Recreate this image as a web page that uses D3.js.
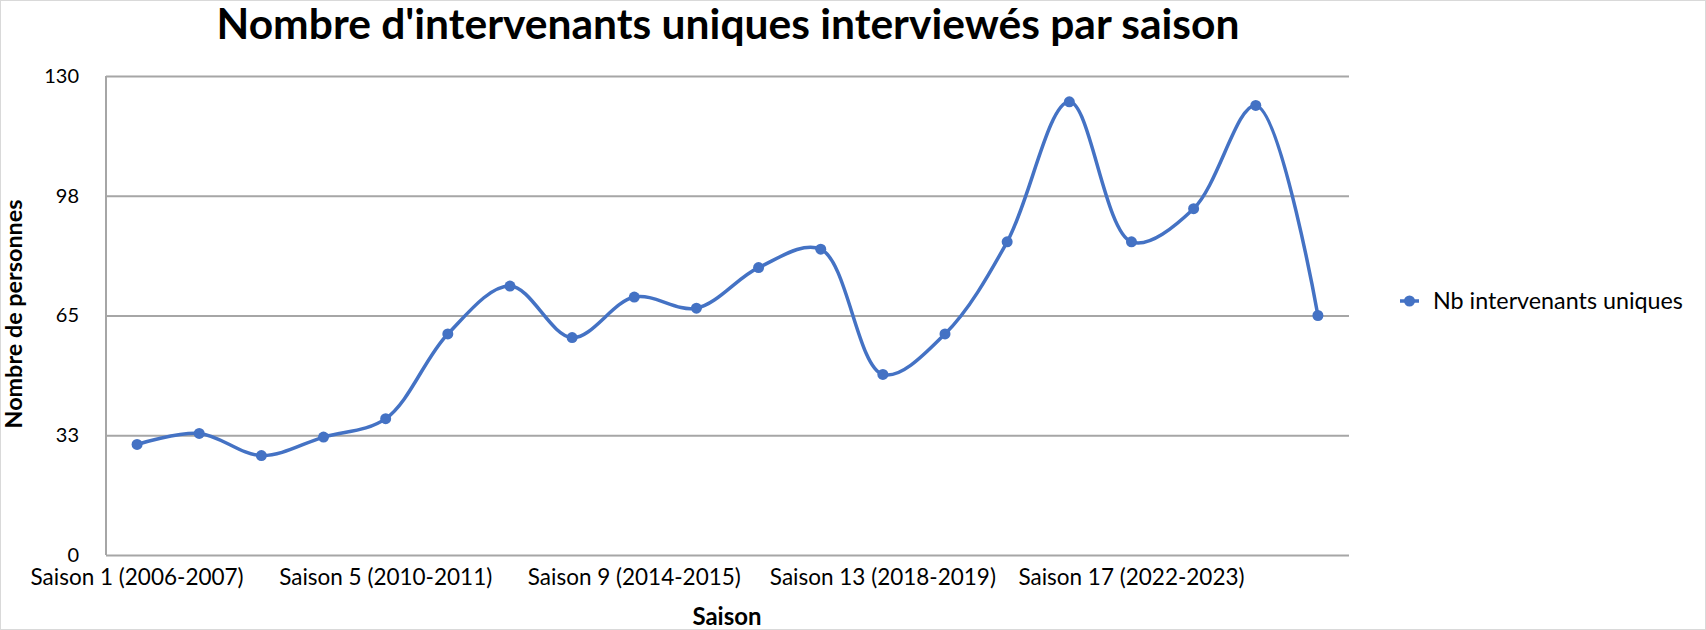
<!DOCTYPE html>
<html><head><meta charset="utf-8">
<script src="https://cdn.jsdelivr.net/npm/d3@7"></script>
<style>
html,body{margin:0;padding:0;background:#fff;}
svg{display:block;font-family:Lato,"Open Sans",sans-serif;}
</style></head>
<body>
<svg id="chart" width="1706" height="630"></svg>
<script>
const title = "Nombre d'intervenants uniques interviewés par saison";
const seriesName = "Nb intervenants uniques";
const xTitle = "Saison";
const yTitle = "Nombre de personnes";
const seasons = d3.range(1, 21).map(n => `Saison ${n} (${2005 + n}-${2006 + n})`);
const values = [30, 33, 27, 32, 37, 60, 73, 59, 70, 67, 78, 83, 49, 60, 85, 123, 85, 94, 122, 65];
const yTicks = [0, 32.5, 65, 97.5, 130];
const yTickLabels = ["0", "33", "65", "98", "130"];
const shownLabelEvery = 4;

const svg = d3.select("#chart");
const W = 1706, H = 630;
const m = {left: 106, right: 1349, top: 76, bottom: 555};
const blue = "#4472C4";

function fitSize(node, target) {
  const fs = parseFloat(node.getAttribute("font-size"));
  const w = node.getComputedTextLength();
  return w > 0 ? fs * target / w : fs;
}
function fit(sel, target) {
  sel.each(function() { this.setAttribute("font-size", fitSize(this, target).toFixed(2)); });
}

svg.append("rect").attr("x", 0.5).attr("y", 0.5).attr("width", W - 1).attr("height", H - 1)
  .attr("fill", "#fff").attr("stroke", "#d9d9d9").attr("stroke-width", 1);

const x = d3.scaleBand().domain(seasons).range([m.left, m.right]).padding(0);
const y = d3.scaleLinear().domain([0, 130]).range([m.bottom, m.top]);

// gridlines
const yAxis = d3.axisLeft(y).tickValues(yTicks).tickSize(-(m.right - m.left))
  .tickFormat((d, i) => yTickLabels[i]).tickPadding(27);
const gy = svg.append("g").attr("transform", `translate(${m.left},0)`).call(yAxis);
gy.select(".domain").remove();
gy.selectAll(".tick line").attr("stroke", "#a6a6a6").attr("stroke-width", 2);
gy.selectAll(".tick text").attr("font-size", 20).attr("fill", "#000")
  .attr("font-family", "Lato, sans-serif");
svg.append("line").attr("x1", m.left).attr("x2", m.left).attr("y1", m.top).attr("y2", m.bottom)
  .attr("stroke", "#a6a6a6").attr("stroke-width", 2);

// x axis labels
const xAxis = d3.axisBottom(x).tickSize(0).tickPadding(14)
  .tickValues(seasons.filter((d, i) => i % shownLabelEvery === 0));
const gx = svg.append("g").attr("transform", `translate(0,${m.bottom})`).call(xAxis);
gx.select(".domain").remove();
const xt = gx.selectAll(".tick text").attr("font-size", 20).attr("fill", "#000")
  .attr("font-family", "Lato, sans-serif");
const xfs = fitSize(xt.node(), 213);
xt.attr("font-size", xfs.toFixed(2));

// line
const line = d3.line().x((d, i) => x(seasons[i]) + x.bandwidth() / 2).y(d => y(d))
  .curve(d3.curveCatmullRom.alpha(0.5));
svg.append("path").datum(values).attr("d", line).attr("fill", "none")
  .attr("stroke", blue).attr("stroke-width", 3.5).attr("stroke-linejoin", "round");
svg.append("g").selectAll("circle").data(values).join("circle")
  .attr("cx", (d, i) => x(seasons[i]) + x.bandwidth() / 2).attr("cy", d => y(d))
  .attr("r", 5.5).attr("fill", blue);

// title
svg.append("text").attr("x", 728).attr("y", 39).attr("text-anchor", "middle")
  .attr("font-size", 36).attr("font-weight", 700).attr("fill", "#000").text(title).call(fit, 1023);

// axis titles
svg.append("text").attr("x", 727).attr("y", 625).attr("text-anchor", "middle")
  .attr("font-size", 19).attr("font-weight", 700).attr("fill", "#000").text(xTitle).call(fit, 69);
svg.append("text").attr("transform", "translate(22,314) rotate(-90)").attr("text-anchor", "middle")
  .attr("font-size", 19).attr("font-weight", 700).attr("fill", "#000").text(yTitle).call(fit, 229);

// legend
const lg = svg.append("g").attr("transform", "translate(1400,301)");
lg.append("line").attr("x1", 0).attr("x2", 19).attr("y1", 0).attr("y2", 0)
  .attr("stroke", blue).attr("stroke-width", 3.5);
lg.append("circle").attr("cx", 9.5).attr("cy", 0).attr("r", 5.5).attr("fill", blue);
lg.append("text").attr("x", 33).attr("y", 0).attr("dy", "0.35em").attr("font-size", 20)
  .attr("fill", "#000").text(seriesName).call(fit, 250);
</script>
</body></html>
